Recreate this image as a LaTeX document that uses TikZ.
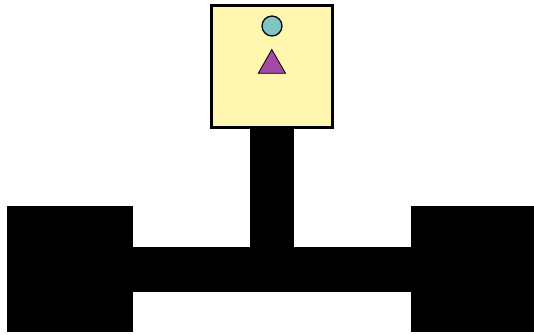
\documentclass[tikz,border=0pt]{standalone}
\usetikzlibrary{positioning}
\definecolor{boxyellow}{RGB}{255,246,176}
\definecolor{dotteal}{RGB}{126,196,196}
\definecolor{tripurple}{RGB}{163,74,166}
\tikzset{
  blk/.style={fill=black,draw=black,line width=0.3pt,inner sep=0pt,outer sep=0pt},
  sensorbox/.style={fill=boxyellow,draw=black,line width=3pt,inner sep=0pt},
}
\begin{document}
\begin{tikzpicture}[x=1pt,y=-1pt]
\useasboundingbox (0,0) rectangle (534,334);
% black structure
\path[blk] (250,126) rectangle (293.5,250) coordinate (vbar);
\path[blk] (132,247) rectangle (412,291.5) coordinate (hbar);
\path[blk] (7.5,206.5) rectangle (132.5,331.5) coordinate (lsq);
\path[blk] (411.5,206.5) rectangle (534,331.5) coordinate (rsq);
% yellow box
\node[sensorbox,minimum width=121.5pt,minimum height=121.5pt] (box) at (271.75,66.25) {};
% circle
\node[circle,fill=dotteal,draw=black,line width=1.2pt,minimum size=20pt,inner sep=0pt] (dot) at (272,26) {};
% triangle
\coordinate (tri) at (272,62);
\filldraw[fill=tripurple,draw=black,line width=0.8pt,line join=miter] (271.8,49.5) -- (285.5,73.3) -- (258.3,73.3) -- cycle;
\end{tikzpicture}
\end{document}
